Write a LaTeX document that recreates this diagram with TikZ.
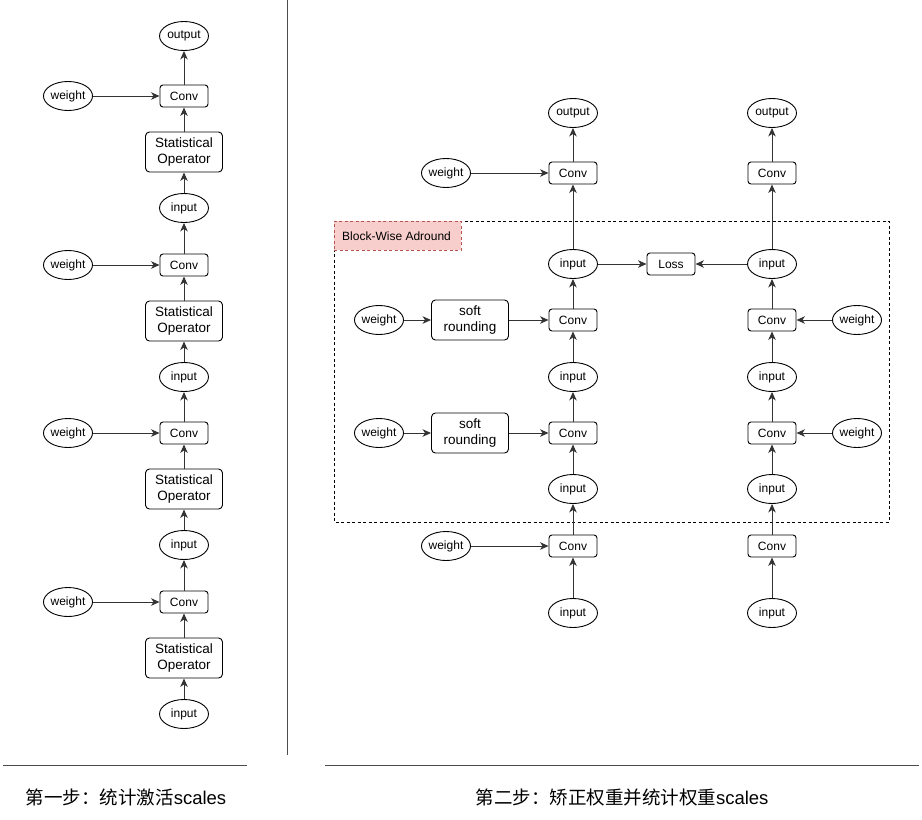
\documentclass[tikz,border=0pt]{standalone}
\usepackage{fontspec}
\setmainfont{Liberation Sans}
\newfontfamily\cjk{Noto Sans CJK SC}
\usetikzlibrary{arrows.meta,shapes.geometric}
\definecolor{lnc}{HTML}{333333}
\definecolor{pinkf}{HTML}{F8CECC}
\definecolor{pinkd}{HTML}{B85450}
\tikzset{
  ell/.style={draw=black, line width=0.9pt, ellipse, minimum width=49pt, minimum height=29pt, inner sep=0pt, font=\fontsize{12}{14}\selectfont},
  outell/.style={ell},
  bx/.style={draw=black, line width=0.9pt, rounded corners=3pt, minimum width=48pt, minimum height=22pt, inner sep=0pt, font=\fontsize{12}{14}\selectfont},
  bigbx/.style={draw=black, line width=0.9pt, rounded corners=4pt, minimum width=77pt, minimum height=40pt, inner sep=0pt, align=center, font=\fontsize{13.5}{16}\selectfont},
  arr/.style={draw=lnc, line width=1pt, -{Stealth[length=8.5pt,width=7.5pt,inset=2.5pt]}},
  rule/.style={draw=black!70, line width=0.8pt},
  captext/.style={font=\fontsize{18.5}{21}\selectfont, inner sep=0pt}
}
\begin{document}
\begin{tikzpicture}[x=1pt,y=-1pt]
\useasboundingbox (0,0) rectangle (922,820);
% ---------- left column ----------
\node[outell] (out1) at (184,36) {output};
\node[bx] (c1) at (184,96) {Conv};
\node[ell] (w1) at (68,96) {weight};
\node[bigbx] (s1) at (184,152) {Statistical\\Operator};
\node[ell] (i1) at (184,208) {input};
\node[bx] (c2) at (184,265) {Conv};
\node[ell] (w2) at (68,265) {weight};
\node[bigbx] (s2) at (184,321) {Statistical\\Operator};
\node[ell] (i2) at (184,377) {input};
\node[bx] (c3) at (184,433) {Conv};
\node[ell] (w3) at (68,433) {weight};
\node[bigbx] (s3) at (184,489) {Statistical\\Operator};
\node[ell] (i3) at (184,545) {input};
\node[bx] (c4) at (184,602) {Conv};
\node[ell] (w4) at (68,602) {weight};
\node[bigbx] (s4) at (184,658) {Statistical\\Operator};
\node[ell] (i4) at (184,714) {input};
\draw[arr] (c1) -- (out1);
\draw[arr] (w1) -- (c1);
\draw[arr] (s1) -- (c1);
\draw[arr] (i1) -- (s1);
\draw[arr] (c2) -- (i1);
\draw[arr] (w2) -- (c2);
\draw[arr] (s2) -- (c2);
\draw[arr] (i2) -- (s2);
\draw[arr] (c3) -- (i2);
\draw[arr] (w3) -- (c3);
\draw[arr] (s3) -- (c3);
\draw[arr] (i3) -- (s3);
\draw[arr] (c4) -- (i3);
\draw[arr] (w4) -- (c4);
\draw[arr] (s4) -- (c4);
\draw[arr] (i4) -- (s4);
% ---------- dividers and captions ----------
\coordinate (vt) at (287,0);
\coordinate (vb) at (287,755);
\draw[rule] (vt) -- (vb);
\coordinate (la) at (3,765);
\coordinate (lb) at (247,765);
\draw[rule] (la) -- (lb);
\coordinate (ra) at (325,765);
\coordinate (rb) at (919,765);
\draw[rule] (ra) -- (rb);
\node[captext] (cap1) at (126,797) {{\cjk 第一步：统计激活}scales};
\node[captext] (cap2) at (622,797) {{\cjk 第二步：矫正权重并统计权重}scales};
% ---------- block-wise region ----------
\draw[black, line width=0.7pt, dash pattern=on 3pt off 2.5pt] (334,221) rectangle (889,522);
\node[draw=pinkd, fill=pinkf, line width=0.7pt, dash pattern=on 3pt off 2.5pt, minimum width=127pt, minimum height=29pt, inner sep=0pt, anchor=north west] (bw) at (334,221) {};
\node[anchor=west, inner sep=0pt, font=\fontsize{12}{14}\selectfont] (bwl) at (342,236) {Block-Wise Adround};
% ---------- right: column A ----------
\node[outell] (oA) at (573,113) {output};
\node[bx] (cA1) at (573,173) {Conv};
\node[ell] (wA1) at (446,173) {weight};
\node[ell] (iA1) at (573,264) {input};
\node[bx] (loss) at (671,264) {Loss};
\node[bx] (cA2) at (573,320) {Conv};
\node[bigbx] (sr1) at (470,320) {soft\\rounding};
\node[ell] (wA2) at (379,320) {weight};
\node[ell] (iA2) at (573,377) {input};
\node[bx] (cA3) at (573,433) {Conv};
\node[bigbx] (sr2) at (470,433) {soft\\rounding};
\node[ell] (wA3) at (379,433) {weight};
\node[ell] (iA3) at (573,489) {input};
\node[bx] (cA4) at (573,546) {Conv};
\node[ell] (wA4) at (446,546) {weight};
\node[ell] (iA4) at (573,613) {input};
% ---------- right: column B ----------
\node[outell] (oB) at (772,113) {output};
\node[bx] (cB1) at (772,173) {Conv};
\node[ell] (iB1) at (772,264) {input};
\node[bx] (cB2) at (772,320) {Conv};
\node[ell] (wB2) at (857,320) {weight};
\node[ell] (iB2) at (772,377) {input};
\node[bx] (cB3) at (772,433) {Conv};
\node[ell] (wB3) at (857,433) {weight};
\node[ell] (iB3) at (772,489) {input};
\node[bx] (cB4) at (772,546) {Conv};
\node[ell] (iB4) at (772,613) {input};
% arrows A
\draw[arr] (cA1) -- (oA);
\draw[arr] (wA1) -- (cA1);
\draw[arr] (iA1) -- (cA1);
\draw[arr] (iA1) -- (loss);
\draw[arr] (cA2) -- (iA1);
\draw[arr] (wA2) -- (sr1);
\draw[arr] (sr1) -- (cA2);
\draw[arr] (iA2) -- (cA2);
\draw[arr] (cA3) -- (iA2);
\draw[arr] (wA3) -- (sr2);
\draw[arr] (sr2) -- (cA3);
\draw[arr] (iA3) -- (cA3);
\draw[arr] (cA4) -- (iA3);
\draw[arr] (wA4) -- (cA4);
\draw[arr] (iA4) -- (cA4);
% arrows B
\draw[arr] (cB1) -- (oB);
\draw[arr] (iB1) -- (cB1);
\draw[arr] (iB1) -- (loss);
\draw[arr] (cB2) -- (iB1);
\draw[arr] (wB2) -- (cB2);
\draw[arr] (iB2) -- (cB2);
\draw[arr] (cB3) -- (iB2);
\draw[arr] (wB3) -- (cB3);
\draw[arr] (iB3) -- (cB3);
\draw[arr] (cB4) -- (iB3);
\draw[arr] (iB4) -- (cB4);
\end{tikzpicture}
\end{document}
